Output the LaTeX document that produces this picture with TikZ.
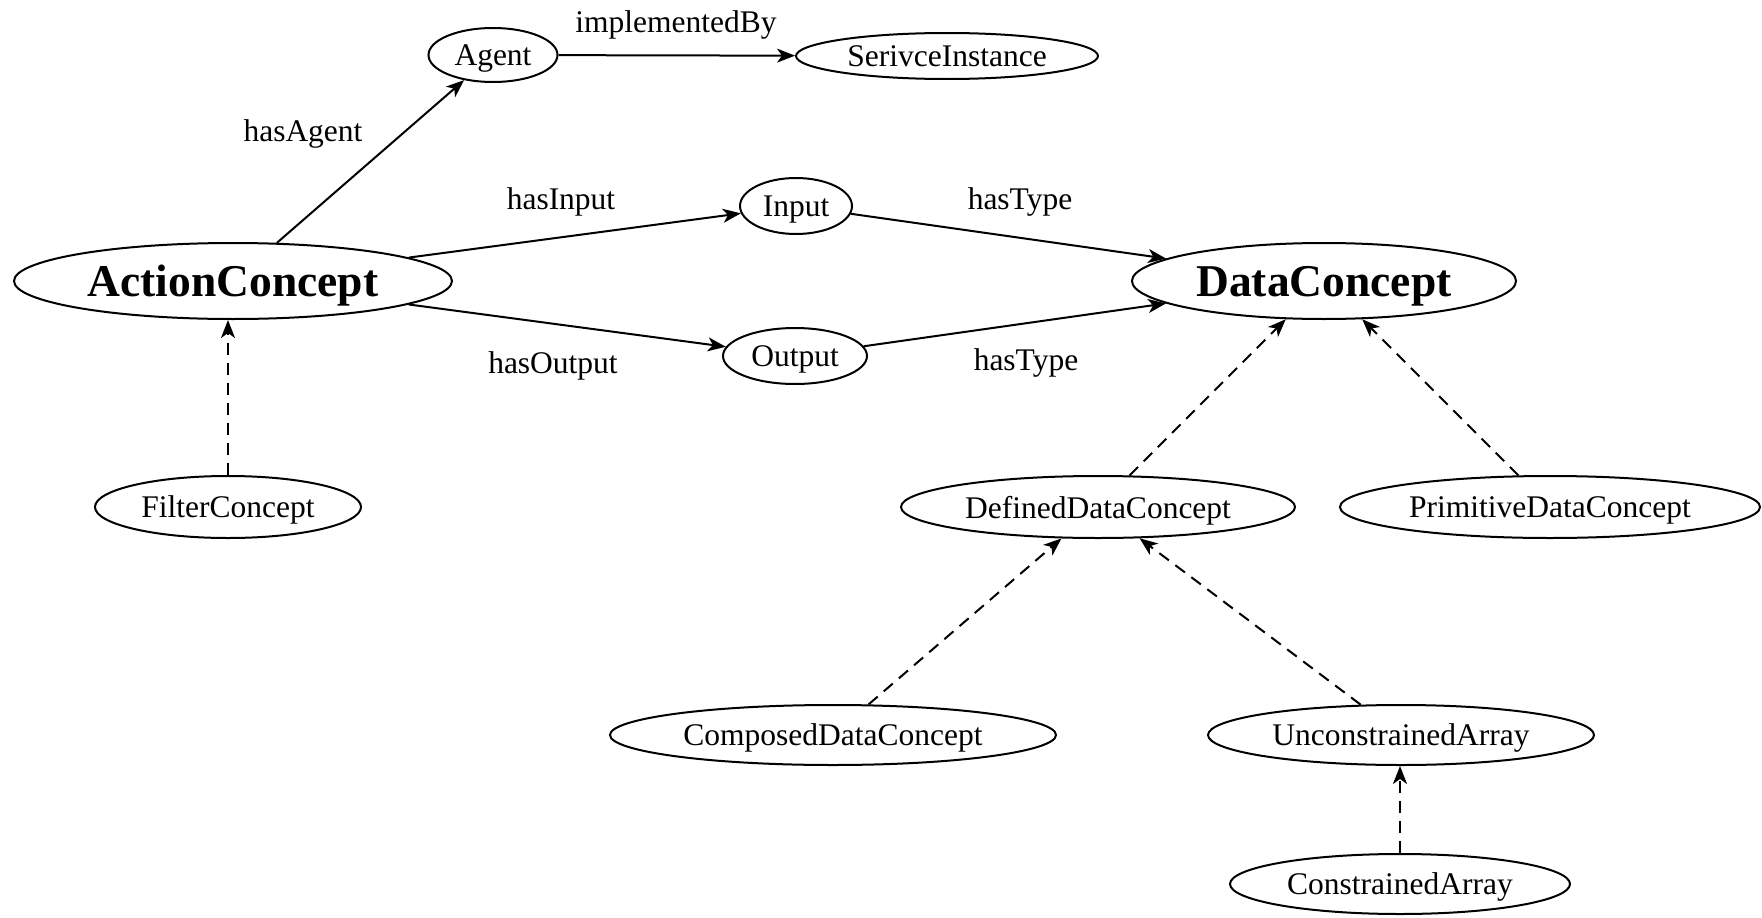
\documentclass[tikz,border=0pt]{standalone}
\usepackage{fontspec}
\setmainfont{Liberation Serif}
\usetikzlibrary{arrows.meta,shapes.geometric}
\tikzset{
  concept/.style={draw, ellipse, line width=2pt, inner sep=0pt, text depth=0pt, font=\fontsize{31.5}{36}\selectfont},
  bigconcept/.style={concept, font=\fontsize{45.5}{50}\selectfont\bfseries},
  rel/.style={line width=2pt, -{Stealth[length=18pt,width=14pt,inset=5pt]}},
  isa/.style={rel, dash pattern=on 12pt off 8pt},
  lbl/.style={font=\fontsize{31.5}{36}\selectfont, inner sep=0pt, text depth=0pt}
}
\begin{document}
\begin{tikzpicture}[x=1pt,y=-1pt]
\useasboundingbox (0,0) rectangle (1762,918);
\node[concept, minimum width=129pt, minimum height=54pt] (agent) at (493,55) {Agent};
\node[concept, minimum width=302pt, minimum height=46pt] (svc) at (947,56) {SerivceInstance};
\node[bigconcept, minimum width=438pt, minimum height=76pt] (action) at (233,281) {ActionConcept};
\node[bigconcept, minimum width=384pt, minimum height=76pt] (data) at (1324,281) {DataConcept};
\node[concept, minimum width=112pt, minimum height=56pt] (input) at (796,206) {Input};
\node[concept, minimum width=144pt, minimum height=56pt] (output) at (795,356) {Output};
\node[concept, minimum width=266pt, minimum height=62pt] (filter) at (228,507) {FilterConcept};
\node[concept, minimum width=394pt, minimum height=62pt] (defined) at (1098,507) {DefinedDataConcept};
\node[concept, minimum width=420pt, minimum height=62pt] (primitive) at (1550,507) {PrimitiveDataConcept};
\node[concept, minimum width=446pt, minimum height=60pt] (composed) at (833,735) {ComposedDataConcept};
\node[concept, minimum width=386pt, minimum height=60pt] (unconstr) at (1401,735) {UnconstrainedArray};
\node[concept, minimum width=340pt, minimum height=60pt] (constr) at (1400,884) {ConstrainedArray};

\draw[rel] (agent) -- (svc);
\draw[rel] (action) -- (agent);
\draw[rel] (action) -- (input);
\draw[rel] (action) -- (output);
\draw[rel] (input) -- (data);
\draw[rel] (output) -- (data);

\draw[isa] (filter.north) -- (filter.north |- action.south);
\draw[isa] (defined) -- (data);
\draw[isa] (primitive) -- (data);
\draw[isa] (composed) -- (defined);
\draw[isa] (unconstr) -- (defined);
\draw[isa] (constr.north) -- (constr.north |- unconstr.south);

\node[lbl] (l1) at (676,22) {implementedBy};
\node[lbl] (l2) at (303,131) {hasAgent};
\node[lbl] (l3) at (561,199) {hasInput};
\node[lbl] (l4) at (1020,199) {hasType};
\node[lbl] (l5) at (553,363) {hasOutput};
\node[lbl] (l6) at (1026,360) {hasType};
\end{tikzpicture}
\end{document}
